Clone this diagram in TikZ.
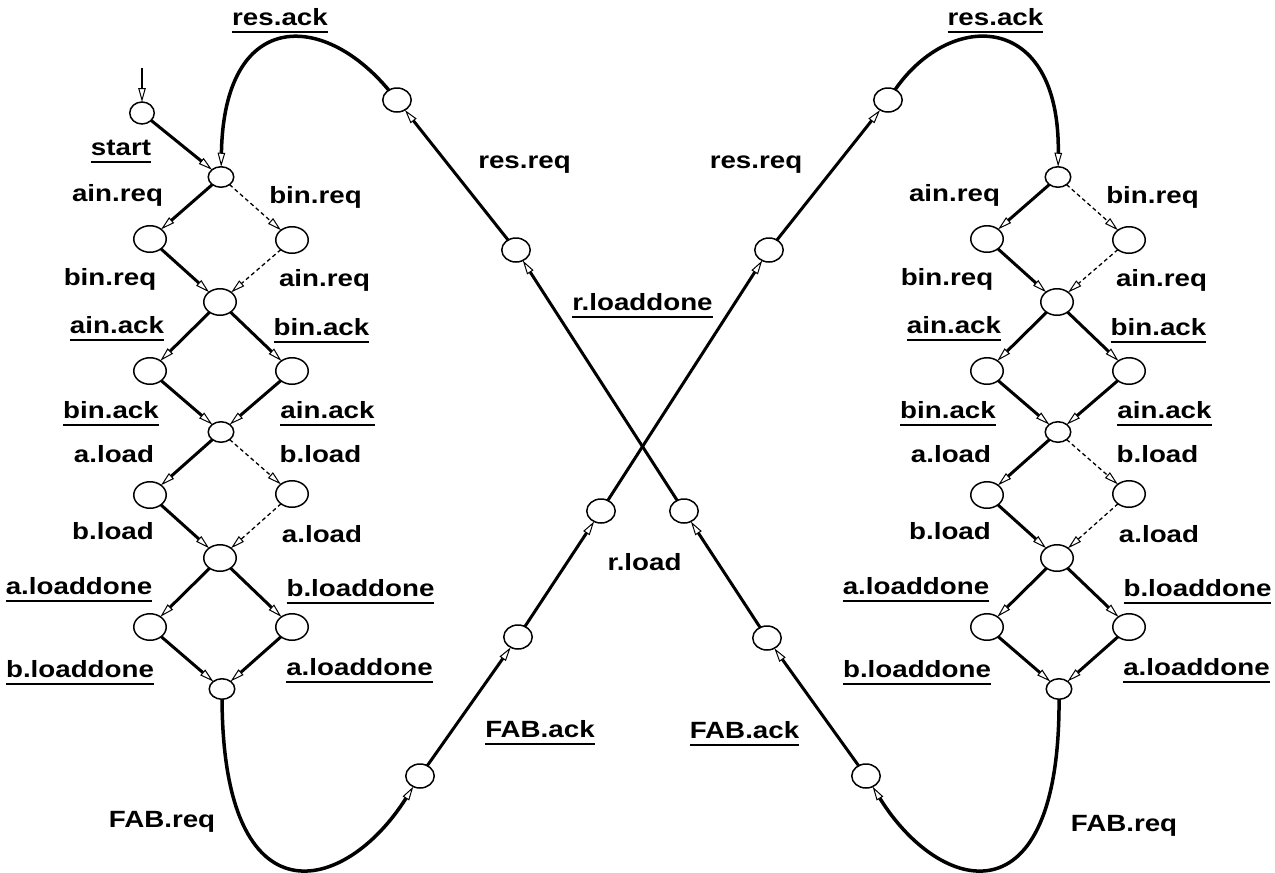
\documentclass[tikz,border=0pt]{standalone}
\usepackage{fontspec}
\setmainfont{Liberation Sans}[FakeStretch=1.18]
\usetikzlibrary{shapes.geometric,arrows.meta}

% underlined transition label
\newcommand\underlbl[1]{\setbox0=\hbox{#1}\rlap{\rule[-8pt]{\wd0}{2pt}}\box0}

\tikzset{
  hollow/.tip={Triangle[open, length=14pt, width=7.5pt, line width=1pt]},
  lbl/.style={font=\fontsize{23.5}{26}\selectfont\bfseries, anchor=base, inner sep=0pt, outer sep=0pt},
  state/.style={draw, ellipse, line width=1.5pt, inner sep=0pt, outer sep=0pt, fill=white},
  jsmall/.style={state, minimum width=25.5pt, minimum height=20.5pt},
  jbig/.style={state, minimum width=32.5pt, minimum height=26.5pt},
  mid/.style={state, minimum width=28.5pt, minimum height=24pt},
  startst/.style={state, minimum width=24.5pt, minimum height=22pt},
  flow/.style={line width=3pt, -{hollow}},
  alt/.style={line width=1.3pt, dash pattern=on 4pt off 3pt, -{hollow}},
  loopback/.style={line width=3.5pt, -{hollow}},
  entry/.style={line width=1.5pt, -{hollow}},
}

\begin{document}
\begin{tikzpicture}[x=1pt,y=-1pt]
\path[fill=white, use as bounding box] (0,0) rectangle (1275,873);

% the two fork/join diamonds
\foreach \dx/\p in {0/l, 837/r} {
  \node[jsmall] (\p-J1) at (221+\dx,177) {};
  \node[jbig]   (\p-L1) at (150+\dx,239) {};
  \node[jbig]   (\p-R1) at (292+\dx,240) {};
  \node[jbig]   (\p-J2) at (220+\dx,302) {};
  \node[jbig]   (\p-L2) at (150+\dx,371) {};
  \node[jbig]   (\p-R2) at (292+\dx,371) {};
  \node[jsmall] (\p-J3) at (221+\dx,432) {};
  \node[jbig]   (\p-L3) at (150+\dx,495) {};
  \node[jbig]   (\p-R3) at (292+\dx,494) {};
  \node[jbig]   (\p-J4) at (220+\dx,558) {};
  \node[jbig]   (\p-L4) at (150+\dx,627) {};
  \node[jbig]   (\p-R4) at (292+\dx,627) {};
  \node[jsmall] (\p-J5) at (222+\dx,689) {};

  \draw[flow] (\p-J1) -- (\p-L1);
  \draw[alt]  (\p-J1) -- (\p-R1);
  \draw[flow] (\p-L1) -- (\p-J2);
  \draw[alt]  (\p-R1) -- (\p-J2);
  \draw[flow] (\p-J2) -- (\p-L2);
  \draw[flow] (\p-J2) -- (\p-R2);
  \draw[flow] (\p-L2) -- (\p-J3);
  \draw[flow] (\p-R2) -- (\p-J3);
  \draw[flow] (\p-J3) -- (\p-L3);
  \draw[alt]  (\p-J3) -- (\p-R3);
  \draw[flow] (\p-L3) -- (\p-J4);
  \draw[alt]  (\p-R3) -- (\p-J4);
  \draw[flow] (\p-J4) -- (\p-L4);
  \draw[flow] (\p-J4) -- (\p-R4);
  \draw[flow] (\p-L4) -- (\p-J5);
  \draw[flow] (\p-R4) -- (\p-J5);

  \node[lbl] (\p-a1) at (117.5+\dx,201) {ain.req};
  \node[lbl] (\p-b1) at (315.5+\dx,203) {bin.req};
  \node[lbl] (\p-a2) at (110+\dx,285) {bin.req};
  \node[lbl] (\p-b2) at (324.5+\dx,286) {ain.req};
  \node[lbl] (\p-a3) at (117+\dx,333) {\underlbl{ain.ack}};
  \node[lbl] (\p-b3) at (321.5+\dx,335) {\underlbl{bin.ack}};
  \node[lbl] (\p-a4) at (111+\dx,418) {\underlbl{bin.ack}};
  \node[lbl] (\p-b4) at (327.5+\dx,418) {\underlbl{ain.ack}};
  \node[lbl] (\p-a5) at (114+\dx,462) {a.load};
  \node[lbl] (\p-b5) at (320.5+\dx,462) {b.load};
  \node[lbl] (\p-a6) at (113+\dx,539) {b.load};
  \node[lbl] (\p-b6) at (322+\dx,542) {a.load};
  \node[lbl] (\p-a7) at (79+\dx,594) {\underlbl{a.loaddone}};
  \node[lbl] (\p-b7) at (360.5+\dx,596) {\underlbl{b.loaddone}};
  \node[lbl] (\p-a8) at (80+\dx,677) {\underlbl{b.loaddone}};
  \node[lbl] (\p-b8) at (359.5+\dx,675) {\underlbl{a.loaddone}};
}

% initial state
\node[startst] (S0) at (142,113) {};
\coordinate (init) at (142,68);
\draw[entry] (init) -- (S0);
\draw[flow] (S0) -- (l-J1);
\node[lbl] (startlbl) at (121,155) {\underlbl{start}};

% chain feeding the left diamond
\node[mid] (M1) at (397,100) {};
\node[mid] (M2) at (516,250) {};
\node[mid] (M3) at (684,511) {};
\node[mid] (M4) at (767,638) {};
\node[mid] (M5) at (866,776) {};

% chain feeding the right diamond
\node[mid] (N1) at (888,100) {};
\node[mid] (N2) at (769,250) {};
\node[mid] (N3) at (601,511) {};
\node[mid] (N4) at (518,637) {};
\node[mid] (N5) at (420,776) {};

\draw[loopback] (r-J5) .. controls (1060,925) and (940,895) .. (M5);
\draw[flow] (M5) -- (M4);
\draw[flow] (M4) -- (M3);
\draw[flow] (M3) -- (M2);
\draw[flow] (M2) -- (M1);
\draw[loopback] (M1) .. controls (322,10) and (224,10) .. (l-J1);

\draw[loopback] (l-J5) .. controls (223,925) and (345,895) .. (N5);
\draw[flow] (N5) -- (N4);
\draw[flow] (N4) -- (N3);
\draw[flow] (N3) -- (N2);
\draw[flow] (N2) -- (N1);
\draw[loopback] (N1) .. controls (950,10) and (1060,10) .. (r-J1);

% labels of the chains
\node[lbl] (resackL) at (280,25) {\underlbl{res.ack}};
\node[lbl] (resackR) at (995.5,25) {\underlbl{res.ack}};
\node[lbl] (resreqL) at (524.5,168) {res.req};
\node[lbl] (resreqR) at (756,168) {res.req};
\node[lbl] (rldone) at (642.5,310) {\underlbl{r.loaddone}};
\node[lbl] (rload) at (644.5,570) {r.load};
\node[lbl] (fabackL) at (540,737) {\underlbl{FAB.ack}};
\node[lbl] (fabackR) at (744.5,738) {\underlbl{FAB.ack}};
\node[lbl] (fabreqL) at (162,827) {FAB.req};
\node[lbl] (fabreqR) at (1124,831) {FAB.req};
\end{tikzpicture}
\end{document}
